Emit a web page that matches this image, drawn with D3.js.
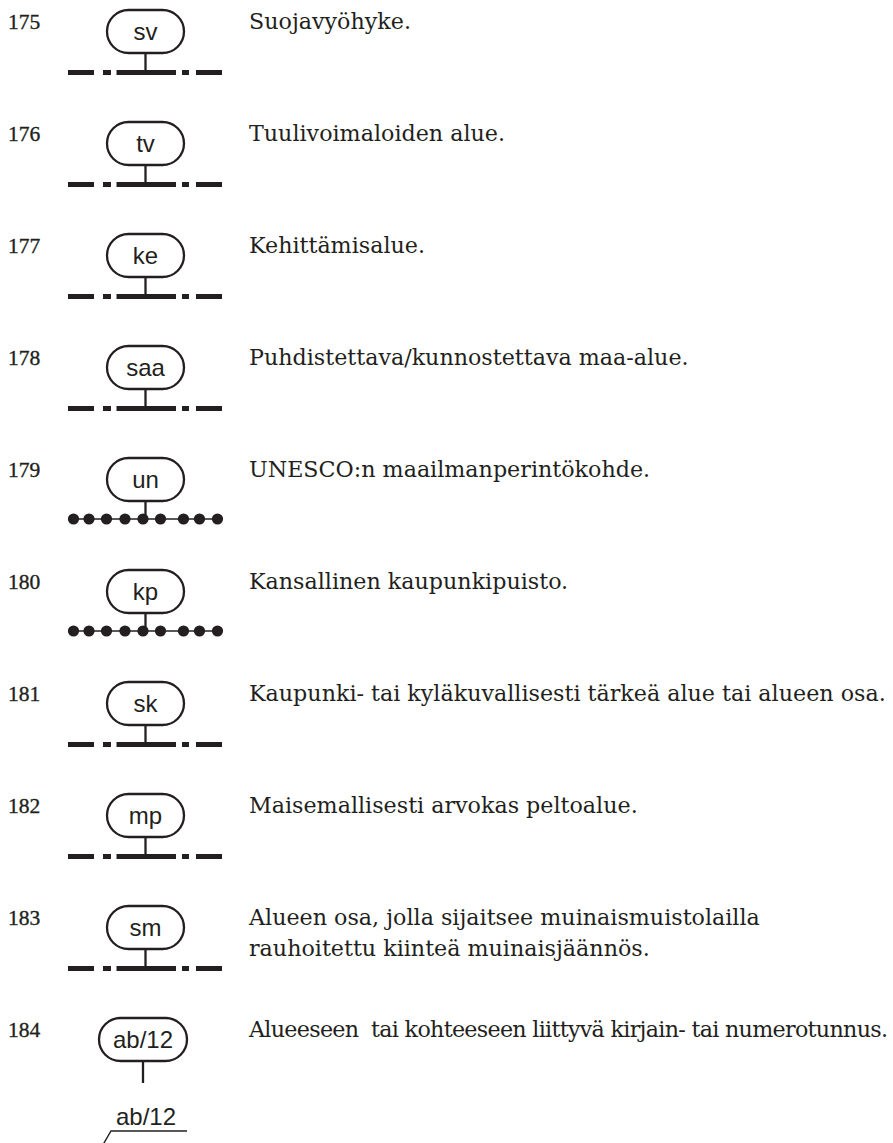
<!DOCTYPE html>
<html>
<head>
<meta charset="utf-8">
<script src="https://cdn.jsdelivr.net/npm/d3@7"></script>
<style>
  html, body { margin: 0; padding: 0; background: #fff; }
  svg { display: block; }
</style>
</head>
<body>
<svg id="chart" width="893" height="1143"></svg>
<script>
// ---- data ----
const numbers = [175, 176, 177, 178, 179, 180, 181, 182, 183, 184];
const codes = ["sv", "tv", "ke", "saa", "un", "kp", "sk", "mp", "sm", "ab/12"];
const descriptions = [
  ["Suojavyöhyke."],
  ["Tuulivoimaloiden alue."],
  ["Kehittämisalue."],
  ["Puhdistettava/kunnostettava maa-alue."],
  ["UNESCO:n maailmanperintökohde."],
  ["Kansallinen kaupunkipuisto."],
  ["Kaupunki- tai kyläkuvallisesti tärkeä alue tai alueen osa."],
  ["Maisemallisesti arvokas peltoalue."],
  ["Alueen osa, jolla sijaitsee muinaismuistolailla", "rauhoitettu kiinteä muinaisjäännös."],
  ["Alueeseen  tai kohteeseen liittyvä kirjain- tai numerotunnus."]
];
const lineTypes = ["dashdot", "dashdot", "dashdot", "dashdot", "dots", "dots", "dashdot", "dashdot", "dashdot", "label"];

// ---- layout ----
const svg = d3.select("#chart");
const ink = "#231f20";
const serif = "'DejaVu Serif', Georgia, serif";
const textX = 249, maxW = 639;
const y = d3.scalePoint().domain(numbers).range([29, 29 + 9 * 112]);
const rows = numbers.map((n, i) => ({ n, code: codes[i], desc: descriptions[i], type: lineTypes[i] }));

// fit description font size so the row 181 line spans like the reference
const probe = svg.append("text")
  .attr("font-family", serif).attr("font-size", 100)
  .text(descriptions[6][0]);
const probeW = probe.node().getComputedTextLength();
probe.remove();
const descSize = 100 * 637 / probeW;

const g = svg.selectAll("g.row").data(rows).join("g")
  .attr("class", "row")
  .attr("transform", d => `translate(0,${y(d.n)})`);

// numbers
g.append("text")
  .attr("x", 8).attr("y", 0)
  .attr("font-family", "'Liberation Serif', 'Times New Roman', serif")
  .attr("font-size", 21.5)
  .attr("fill", ink)
  .attr("stroke", ink).attr("stroke-width", 0.35)
  .text(d => d.n);

// descriptions
g.each(function(d) {
  const sel = d3.select(this);
  d.desc.forEach((s, i) => {
    const t = sel.append("text")
      .attr("x", textX).attr("y", i * 31)
      .attr("font-family", serif)
      .attr("font-size", descSize)
      .attr("fill", ink)
      .attr("xml:space", "preserve")
      .style("white-space", "pre")
      .text(s);
    if (t.node().getComputedTextLength() > maxW) {
      t.attr("textLength", maxW).attr("lengthAdjust", "spacing");
    }
  });
});

// pills
g.each(function(d) {
  const sel = d3.select(this);
  const wide = d.type === "label";
  const cx = wide ? 143 : 145.5;
  const w = wide ? 88 : 77;
  const top = -19, h = 43;
  sel.append("rect")
    .attr("x", cx - w / 2).attr("y", top)
    .attr("width", w).attr("height", h)
    .attr("rx", h / 2).attr("ry", h / 2)
    .attr("fill", "#fff").attr("stroke", ink).attr("stroke-width", 2.3);
  sel.append("text")
    .attr("x", cx).attr("y", top + h / 2 + 8.5)
    .attr("text-anchor", "middle")
    .attr("font-family", "'Liberation Sans', Arial, sans-serif")
    .attr("font-size", 24)
    .attr("fill", ink)
    .text(d.code);

  const lineY = 43.5;
  if (d.type === "dashdot") {
    sel.append("line")
      .attr("x1", cx).attr("x2", cx).attr("y1", top + h).attr("y2", lineY)
      .attr("stroke", ink).attr("stroke-width", 2.3);
    sel.append("line")
      .attr("x1", 68).attr("x2", 222).attr("y1", lineY).attr("y2", lineY)
      .attr("stroke", ink).attr("stroke-width", 5)
      .attr("stroke-dasharray", "26 9 8 5.5 59.5 6 7 7 26");
  } else if (d.type === "dots") {
    const dy = 42;
    sel.append("line")
      .attr("x1", cx).attr("x2", cx).attr("y1", top + h).attr("y2", dy)
      .attr("stroke", ink).attr("stroke-width", 2.3);
    sel.append("line")
      .attr("x1", 73).attr("x2", 217).attr("y1", dy).attr("y2", dy)
      .attr("stroke", ink).attr("stroke-width", 1.5);
    const dotX = [-72, -56.5, -39, -20.5, -2.5, 15, 38, 54, 72];
    sel.selectAll("circle").data(dotX).join("circle")
      .attr("cx", o => cx + o).attr("cy", dy).attr("r", 5.6)
      .attr("fill", ink);
  } else if (d.type === "label") {
    sel.append("line")
      .attr("x1", cx).attr("x2", cx).attr("y1", top + h).attr("y2", 46)
      .attr("stroke", ink).attr("stroke-width", 2.3);
    sel.append("text")
      .attr("x", 146).attr("y", 88)
      .attr("text-anchor", "middle")
      .attr("font-family", "'Liberation Sans', Arial, sans-serif")
      .attr("font-size", 24)
      .attr("fill", ink)
      .text(d.code);
    sel.append("path")
      .attr("d", "M187,94 L111,94 L97,118")
      .attr("fill", "none").attr("stroke", ink).attr("stroke-width", 1.4);
  }
});
</script>
</body>
</html>
